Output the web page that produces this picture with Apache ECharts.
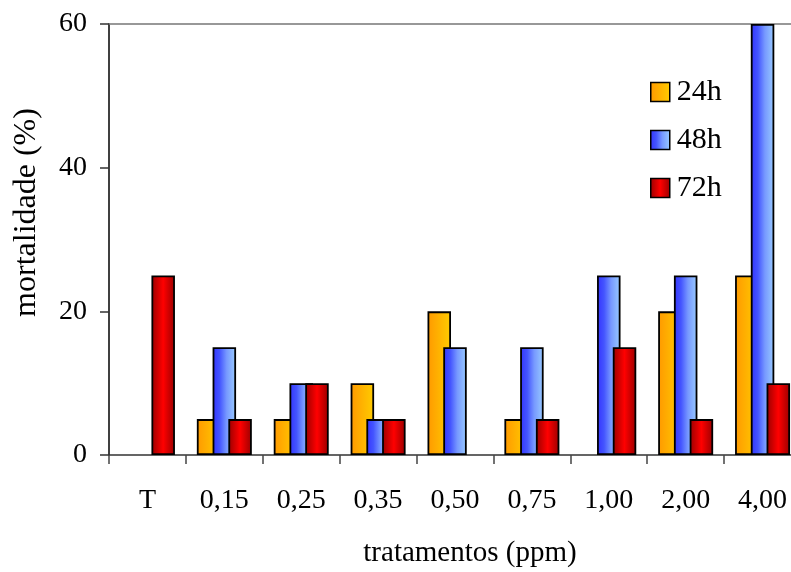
<!DOCTYPE html>
<html>
<head>
<meta charset="utf-8">
<script src="https://cdn.jsdelivr.net/npm/echarts@6/dist/echarts.min.js"></script>
<style>html,body{margin:0;padding:0;background:#fff;}#c{width:791px;height:572px;}</style>
</head>
<body>
<div id="c"></div>
<script>
var categories = ['T', '0,15', '0,25', '0,35', '0,50', '0,75', '1,00', '2,00', '4,00'];
var seriesNames = ['24h', '48h', '72h'];
var values24 = [0, 5, 5, 10, 20, 5, 0, 20, 25];
var values48 = [0, 15, 10, 5, 15, 15, 25, 25, 60];
var values72 = [25, 5, 10, 5, 0, 5, 15, 5, 10];
var yTicks = [0, 20, 40, 60];

function grad(stops) {
  return new echarts.graphic.LinearGradient(0, 0, 1, 0, stops);
}
var colors = [
  grad([{offset: 0, color: '#FF9900'}, {offset: 0.5, color: '#FFB300'}, {offset: 1, color: '#FFCC00'}]),
  grad([{offset: 0, color: '#3333FF'}, {offset: 0.3, color: '#4455FF'}, {offset: 0.6, color: '#7799FF'}, {offset: 1, color: '#99CCFF'}]),
  grad([{offset: 0, color: '#990000'}, {offset: 0.25, color: '#CC0000'}, {offset: 0.5, color: '#FF0000'}, {offset: 0.75, color: '#CC0000'}, {offset: 1, color: '#990000'}])
];
var font = 'Liberation Serif';
var dataSets = [values24, values48, values72];

var chart = echarts.init(document.getElementById('c'), null, {renderer: 'canvas'});
chart.setOption({
  backgroundColor: '#fff',
  animation: false,
  grid: {left: 109, top: 24, width: 692, height: 431, containLabel: false, outerBoundsMode: 'none'},
  legend: {
    data: seriesNames,
    orient: 'vertical',
    left: 645,
    top: 72,
    itemWidth: 19,
    itemHeight: 19,
    itemGap: 18,
    icon: 'rect',
    itemStyle: {borderColor: '#000', borderWidth: 1.5},
    textStyle: {fontFamily: font, fontSize: 30, lineHeight: 20, color: '#000', padding: [0, 0, 0, 2]}
  },
  xAxis: [{
    type: 'category',
    data: categories,
    position: 'bottom',
    axisLine: {lineStyle: {color: '#333', width: 1.5}},
    axisTick: {show: true, length: 9, lineStyle: {color: '#444', width: 1.5}},
    axisLabel: {fontFamily: font, fontSize: 28, color: '#000', margin: 32},
    name: 'tratamentos (ppm)',
    nameLocation: 'middle',
    nameGap: 84,
    nameTextStyle: {fontFamily: font, fontSize: 29, color: '#000', padding: [0, 0, 0, 30]}
  }, {
    type: 'category',
    data: categories,
    position: 'top',
    axisLine: {lineStyle: {color: '#777', width: 1.5}},
    axisTick: {show: false},
    axisLabel: {show: false}
  }],
  yAxis: {
    type: 'value',
    min: 0,
    max: 60,
    interval: 20,
    axisLine: {show: true, lineStyle: {color: '#000', width: 1.5}},
    axisTick: {show: true, length: 9, lineStyle: {color: '#333', width: 1.5}},
    axisLabel: {fontFamily: font, fontSize: 28, color: '#000', margin: 22,
      formatter: function (v) { return yTicks.indexOf(v) >= 0 ? String(v) : ''; }},
    splitLine: {show: false},
    name: 'mortalidade (%)',
    nameLocation: 'middle',
    nameGap: 66,
    nameRotate: 90,
    nameTextStyle: {fontFamily: font, fontSize: 32, color: '#000', padding: [0, 0, 0, 54]}
  },
  series: seriesNames.map(function (n, i) {
    return {
      name: n,
      type: 'bar',
      xAxisIndex: 0,
      data: dataSets[i].map(function (v) {
        return v === 0 ? {value: v, itemStyle: {borderWidth: 0}} : v;
      }),
      barWidth: 23.5,
      barGap: '-33%',
      itemStyle: {color: colors[i], borderColor: '#000', borderWidth: 1.8}
    };
  })
});
</script>
</body>
</html>
